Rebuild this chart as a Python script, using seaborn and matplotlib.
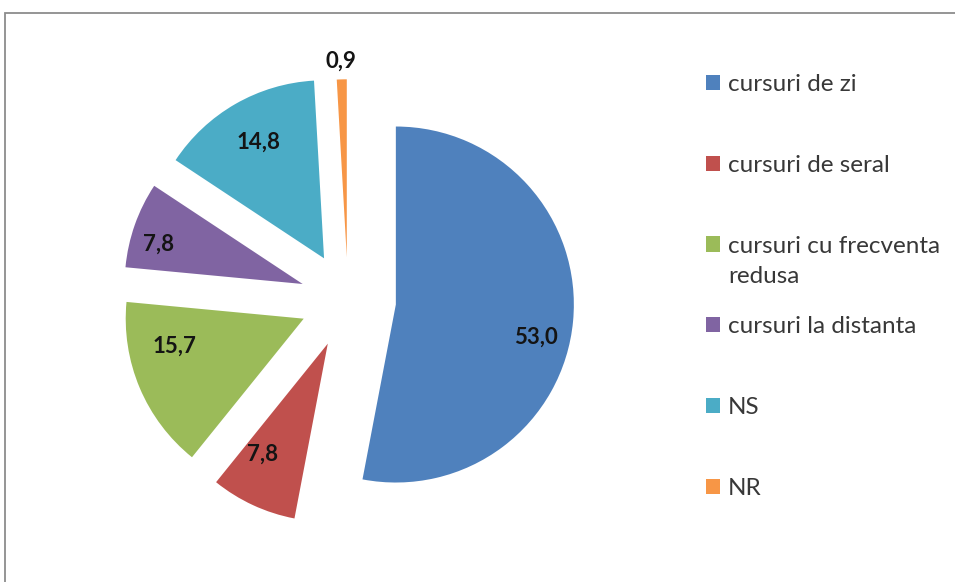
import matplotlib.pyplot as plt
import seaborn as sns
import numpy as np
from matplotlib.patches import Rectangle

# data
categories = ['cursuri de zi', 'cursuri de seral', 'cursuri cu frecventa',
              'cursuri la distanta', 'NS', 'NR']
values = [53.0, 7.8, 15.7, 7.8, 14.8, 0.9]
colors = ['#4F81BD', '#C0504D', '#9BBB59', '#8064A2', '#4BACC6', '#F79646']
wrap_extra = {2: 'redusa'}  # second line of the long legend label

# where each value label sits inside its slice (fraction along arc, radius)
label_frac = [0.54, 0.70, 0.69, 0.36, 0.51, 0.5]
label_dist = [0.81, 0.72, 0.74, 0.84, 0.75, 1.10]

sns.set_theme(style='white')
plt.rcParams['font.family'] = ['Lato', 'DejaVu Sans']

W, H = 955, 582
fig = plt.figure(figsize=(W / 100, H / 100), dpi=100)
fig.patch.set_facecolor('white')

# pie centre and radius in pixels
cx, cy, R = 348, 300, 178
ax_w = 660
ax = fig.add_axes([0, 0, ax_w / W, 1])

wedges, _ = ax.pie(values, colors=sns.color_palette(colors), startangle=90,
                   counterclock=False, explode=[0.27, 0.27, 0.27, 0.27, 0.27, 0.24],
                   wedgeprops=dict(linewidth=0))
ax.set_xlim(-cx / R, (ax_w - cx) / R)
ax.set_ylim(-(H - cy) / R, cy / R)

# value labels
for w, v, f, d in zip(wedges, values, label_frac, label_dist):
    # counterclock=False -> theta2 is the start of the slice
    ang = np.deg2rad(w.theta2 - f * (w.theta2 - w.theta1))
    x = w.center[0] + d * np.cos(ang)
    y = w.center[1] + d * np.sin(ang)
    ax.text(x, y, f'{v:.1f}'.replace('.', ','), ha='center', va='center',
            fontsize=16, fontweight='bold', color='#141414')

leg = ax.legend(wedges, categories, loc='upper left',
                bbox_to_anchor=(706 / W, 1 - 74 / H), bbox_transform=fig.transFigure,
                frameon=False, fontsize=17.5, handlelength=0.58, handleheight=0.58,
                handletextpad=0.32, labelspacing=2.46, borderpad=0, borderaxespad=0)
for t in leg.get_texts():
    t.set_color('#383838')
for i, extra in wrap_extra.items():
    ax.annotate(extra, xy=(0, 0), xycoords=leg.get_texts()[i], xytext=(0, -6.5),
                textcoords='offset points', ha='left', va='top', fontsize=17.5,
                color='#383838', zorder=10)

# outer chart border (partly cropped)
fig.add_artist(Rectangle((5 / W, -0.1), 2, 1 - 13 / H + 0.1, transform=fig.transFigure,
                         fill=False, edgecolor='#8c8c8c', linewidth=1.3))

plt.savefig('out.png', dpi=100)
